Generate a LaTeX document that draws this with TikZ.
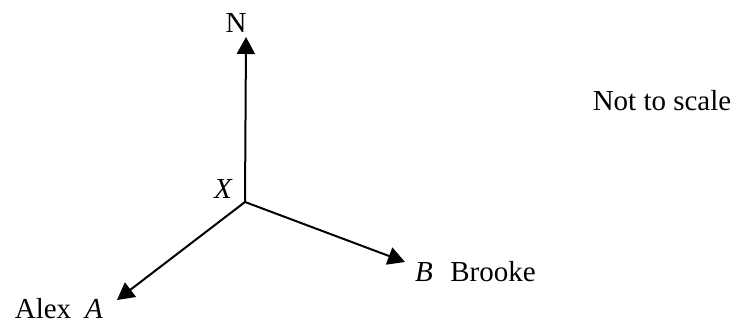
\documentclass[tikz,border=0pt]{standalone}
\usepackage{fontspec}
\setmainfont{Liberation Serif}
\usetikzlibrary{arrows.meta}
\begin{document}
\begin{tikzpicture}[x=0.5pt,y=-0.5pt,
  arr/.style={line width=1pt,-{Triangle[width=9pt,length=8.5pt]}},
  lbl/.style={inner sep=0pt,font=\fontsize{14.5pt}{17pt}\selectfont}]
\useasboundingbox (0,0) rectangle (737,324);
\coordinate (x) at (245,202);
\coordinate (n) at (246,37);
\coordinate (b) at (405,262);
\coordinate (a) at (117,300);
\draw[arr] (x) -- (n);
\draw[arr] (x) -- (b);
\draw[arr] (x) -- (a);
\node[lbl] (nl) at (236,23) {N};
\node[lbl] (xl) at (223,189) {\itshape X};
\node[lbl] (bl) at (424,272) {\itshape B};
\node[lbl] (brooke) at (493,272) {Brooke};
\node[lbl] (alex) at (43,309) {Alex};
\node[lbl] (al) at (94,309) {\itshape A};
\node[lbl] (nts) at (662,101) {Not to scale};
\end{tikzpicture}
\end{document}
